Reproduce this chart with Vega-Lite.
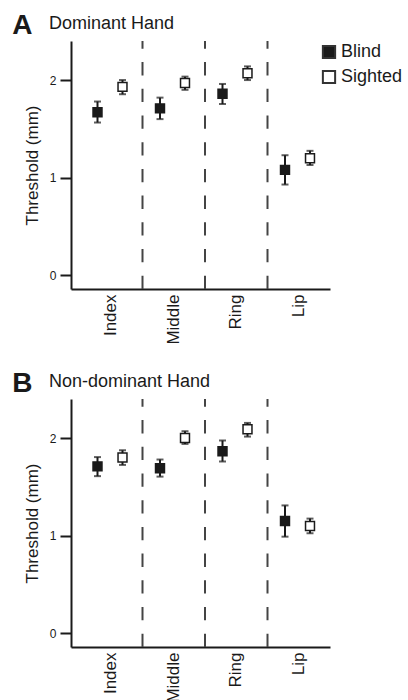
{
  "$schema": "https://vega.github.io/schema/vega-lite/v6.json",
  "padding": {"left": 12, "top": 12, "right": 0, "bottom": 0},
  "config": {
    "font": "Liberation Sans",
    "view": {"stroke": null},
    "axis": {"domainColor": "#1a1a1a", "domainWidth": 2, "tickColor": "#1a1a1a", "labelColor": "#1a1a1a", "titleColor": "#1a1a1a", "grid": false},
    "title": {"color": "#1a1a1a"}
  },
  "data": {
    "values": [
      {"hand": "Dominant", "finger": "Index", "group": "Blind", "mean": 1.67, "lo": 1.565, "hi": 1.78},
      {"hand": "Dominant", "finger": "Index", "group": "Sighted", "mean": 1.93, "lo": 1.855, "hi": 2.0},
      {"hand": "Dominant", "finger": "Middle", "group": "Blind", "mean": 1.71, "lo": 1.6, "hi": 1.82},
      {"hand": "Dominant", "finger": "Middle", "group": "Sighted", "mean": 1.97, "lo": 1.9, "hi": 2.035},
      {"hand": "Dominant", "finger": "Ring", "group": "Blind", "mean": 1.86, "lo": 1.755, "hi": 1.96},
      {"hand": "Dominant", "finger": "Ring", "group": "Sighted", "mean": 2.07, "lo": 2.0, "hi": 2.14},
      {"hand": "Dominant", "finger": "Lip", "group": "Blind", "mean": 1.08, "lo": 0.93, "hi": 1.23},
      {"hand": "Dominant", "finger": "Lip", "group": "Sighted", "mean": 1.2, "lo": 1.13, "hi": 1.275},
      {"hand": "Non-dominant", "finger": "Index", "group": "Blind", "mean": 1.71, "lo": 1.61, "hi": 1.805},
      {"hand": "Non-dominant", "finger": "Index", "group": "Sighted", "mean": 1.8, "lo": 1.725, "hi": 1.875},
      {"hand": "Non-dominant", "finger": "Middle", "group": "Blind", "mean": 1.69, "lo": 1.605, "hi": 1.78},
      {"hand": "Non-dominant", "finger": "Middle", "group": "Sighted", "mean": 2.0, "lo": 1.94, "hi": 2.07},
      {"hand": "Non-dominant", "finger": "Ring", "group": "Blind", "mean": 1.865, "lo": 1.76, "hi": 1.975},
      {"hand": "Non-dominant", "finger": "Ring", "group": "Sighted", "mean": 2.09, "lo": 2.015, "hi": 2.155},
      {"hand": "Non-dominant", "finger": "Lip", "group": "Blind", "mean": 1.15, "lo": 0.99, "hi": 1.31},
      {"hand": "Non-dominant", "finger": "Lip", "group": "Sighted", "mean": 1.1, "lo": 1.025, "hi": 1.175}
    ]
  },
  "spacing": 25,
  "resolve": {"scale": {"fill": "independent"}, "legend": {"fill": "independent"}},
  "vconcat": [
    {
      "title": {"text": "A", "anchor": "start", "fontSize": 28, "fontWeight": "bold", "dx": -11, "dy": 29},
      "resolve": {"scale": {"fill": "independent"}, "legend": {"fill": "independent"}},
      "vconcat": [
        {
          "width": 259,
          "height": 248,
          "title": {"text": "Dominant Hand", "anchor": "start", "frame": "group", "fontSize": 18, "fontWeight": "normal", "dx": -22, "offset": 7},
          "transform": [{"filter": "datum.hand === 'Dominant'"}],
          "layer": [
            {
              "transform": [{"filter": "datum.group === 'Blind' && datum.finger !== 'Index'"}],
              "mark": {"type": "rule", "strokeDash": [13.3, 13.4], "strokeWidth": 2, "color": "#444444"},
              "encoding": {
                "x": {"field": "finger", "type": "nominal", "bandPosition": 0, "sort": ["Index", "Middle", "Ring", "Lip"],
                  "scale": {"domain": ["Index", "Middle", "Ring", "Lip"], "paddingInner": 0, "paddingOuter": 0.072, "align": 1},
                  "axis": {"title": null, "labelAngle": -90, "ticks": false, "labelFontSize": 17, "labelPadding": 5}},
                "y": {"datum": -0.14, "type": "quantitative", "scale": {"domain": [-0.14, 2.4], "nice": false, "zero": false},
                  "axis": {"title": "Threshold (mm)", "titleFontSize": 17, "titleFontWeight": "normal", "titlePadding": 8, "values": [0, 1, 2], "format": "d", "tickSize": 11, "tickWidth": 2, "labelFontSize": 12, "labelPadding": 4}},
                "y2": {"datum": 2.4}
              }
            },
            {
              "mark": {"type": "rule", "strokeWidth": 2, "color": "#1a1a1a"},
              "encoding": {
                "x": {"field": "finger", "type": "nominal", "sort": ["Index", "Middle", "Ring", "Lip"]},
                "xOffset": {"field": "group", "type": "nominal", "scale": {"domain": ["Blind", "Sighted"], "paddingInner": 0, "paddingOuter": 0.25, "align": 0.4}},
                "y": {"field": "lo", "type": "quantitative", "axis": {"title": "Threshold (mm)"}},
                "y2": {"field": "hi"}
              }
            },
            {
              "mark": {"type": "tick", "thickness": 2, "size": 7, "color": "#1a1a1a"},
              "encoding": {
                "x": {"field": "finger", "type": "nominal", "sort": ["Index", "Middle", "Ring", "Lip"]},
                "xOffset": {"field": "group", "type": "nominal"},
                "y": {"field": "lo", "type": "quantitative", "axis": {"title": "Threshold (mm)"}}
              }
            },
            {
              "mark": {"type": "tick", "thickness": 2, "size": 7, "color": "#1a1a1a"},
              "encoding": {
                "x": {"field": "finger", "type": "nominal", "sort": ["Index", "Middle", "Ring", "Lip"]},
                "xOffset": {"field": "group", "type": "nominal"},
                "y": {"field": "hi", "type": "quantitative", "axis": {"title": "Threshold (mm)"}}
              }
            },
            {
              "mark": {"type": "square", "size": 80, "stroke": "#1a1a1a", "strokeWidth": 1.5, "opacity": 1},
              "encoding": {
                "x": {"field": "finger", "type": "nominal", "sort": ["Index", "Middle", "Ring", "Lip"]},
                "xOffset": {"field": "group", "type": "nominal"},
                "y": {"field": "mean", "type": "quantitative", "axis": {"title": "Threshold (mm)"}},
                "fill": {"field": "group", "type": "nominal", "scale": {"domain": ["Blind", "Sighted"], "range": ["#1a1a1a", "#ffffff"]},
                  "legend": {"orient": "none", "legendX": 249, "legendY": 2, "title": null, "symbolType": "square", "symbolSize": 150, "symbolStrokeColor": "#333333", "symbolStrokeWidth": 2, "symbolOpacity": 1, "labelFontSize": 18, "labelColor": "#1a1a1a", "labelOffset": 3, "rowPadding": 3, "padding": 0}}
              }
            }
          ]
        }
      ]
    },
    {
      "title": {"text": "B", "anchor": "start", "fontSize": 28, "fontWeight": "bold", "dx": -11, "dy": 29},
      "resolve": {"scale": {"fill": "independent"}, "legend": {"fill": "independent"}},
      "vconcat": [
        {
          "width": 259,
          "height": 248,
          "title": {"text": "Non-dominant Hand", "anchor": "start", "frame": "group", "fontSize": 18, "fontWeight": "normal", "dx": -22, "offset": 7},
          "transform": [{"filter": "datum.hand === 'Non-dominant'"}],
          "layer": [
            {
              "transform": [{"filter": "datum.group === 'Blind' && datum.finger !== 'Index'"}],
              "mark": {"type": "rule", "strokeDash": [13.3, 13.4], "strokeWidth": 2, "color": "#444444"},
              "encoding": {
                "x": {"field": "finger", "type": "nominal", "bandPosition": 0, "sort": ["Index", "Middle", "Ring", "Lip"],
                  "scale": {"domain": ["Index", "Middle", "Ring", "Lip"], "paddingInner": 0, "paddingOuter": 0.072, "align": 1},
                  "axis": {"title": null, "labelAngle": -90, "ticks": false, "labelFontSize": 17, "labelPadding": 5}},
                "y": {"datum": -0.14, "type": "quantitative", "scale": {"domain": [-0.14, 2.4], "nice": false, "zero": false},
                  "axis": {"title": "Threshold (mm)", "titleFontSize": 17, "titleFontWeight": "normal", "titlePadding": 8, "values": [0, 1, 2], "format": "d", "tickSize": 11, "tickWidth": 2, "labelFontSize": 12, "labelPadding": 4}},
                "y2": {"datum": 2.4}
              }
            },
            {
              "mark": {"type": "rule", "strokeWidth": 2, "color": "#1a1a1a"},
              "encoding": {
                "x": {"field": "finger", "type": "nominal", "sort": ["Index", "Middle", "Ring", "Lip"]},
                "xOffset": {"field": "group", "type": "nominal", "scale": {"domain": ["Blind", "Sighted"], "paddingInner": 0, "paddingOuter": 0.25, "align": 0.4}},
                "y": {"field": "lo", "type": "quantitative", "axis": {"title": "Threshold (mm)"}},
                "y2": {"field": "hi"}
              }
            },
            {
              "mark": {"type": "tick", "thickness": 2, "size": 7, "color": "#1a1a1a"},
              "encoding": {
                "x": {"field": "finger", "type": "nominal", "sort": ["Index", "Middle", "Ring", "Lip"]},
                "xOffset": {"field": "group", "type": "nominal"},
                "y": {"field": "lo", "type": "quantitative", "axis": {"title": "Threshold (mm)"}}
              }
            },
            {
              "mark": {"type": "tick", "thickness": 2, "size": 7, "color": "#1a1a1a"},
              "encoding": {
                "x": {"field": "finger", "type": "nominal", "sort": ["Index", "Middle", "Ring", "Lip"]},
                "xOffset": {"field": "group", "type": "nominal"},
                "y": {"field": "hi", "type": "quantitative", "axis": {"title": "Threshold (mm)"}}
              }
            },
            {
              "mark": {"type": "square", "size": 80, "stroke": "#1a1a1a", "strokeWidth": 1.5, "opacity": 1},
              "encoding": {
                "x": {"field": "finger", "type": "nominal", "sort": ["Index", "Middle", "Ring", "Lip"]},
                "xOffset": {"field": "group", "type": "nominal"},
                "y": {"field": "mean", "type": "quantitative", "axis": {"title": "Threshold (mm)"}},
                "fill": {"field": "group", "type": "nominal", "scale": {"domain": ["Blind", "Sighted"], "range": ["#1a1a1a", "#ffffff"]}, "legend": null}
              }
            }
          ]
        }
      ]
    }
  ]
}
